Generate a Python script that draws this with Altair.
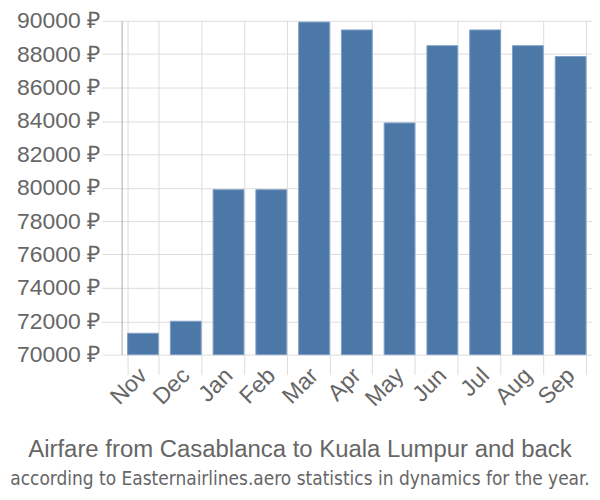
import altair as alt
import pandas as pd

months = ["Nov", "Dec", "Jan", "Feb", "Mar", "Apr", "May", "Jun", "Jul", "Aug", "Sep"]
prices = [71280, 72000, 79880, 79880, 89920, 89450, 83880, 88510, 89450, 88510, 87860]
y_ticks = list(range(70000, 90001, 2000))

df = pd.DataFrame({"month": months, "price": prices})

font = "Liberation Sans"

chart = alt.Chart(df).mark_bar(
    color="#4c78a8", stroke="#7f9fc6", strokeWidth=1
).encode(
    x=alt.X("month:N", sort=months, title=None,
            scale=alt.Scale(paddingInner=0.28, paddingOuter=0.14),
            axis=alt.Axis(labelAngle=-45, labelAlign="right", labelBaseline="middle",
                          tickBand="extent", tickSize=20, tickColor="#dddddd",
                          grid=True, gridColor="#dddddd", domain=False,
                          labelFont=font, labelFontSize=23, labelColor="#666666",
                          labelPadding=-3)),
    y=alt.Y("price:Q", title=None,
            scale=alt.Scale(domain=[70000, 90000], zero=False, nice=False),
            axis=alt.Axis(values=y_ticks, labelExpr="datum.value + ' ₽'",
                          tickSize=20, tickColor="#dddddd", gridColor="#dddddd",
                          domainColor="#aaaaaa",
                          labelFont=font, labelFontSize=23, labelColor="#666666",
                          labelPadding=2)),
    y2=alt.datum(70000),
).properties(
    width=472, height=335,
    autosize=alt.AutoSizeParams(type="none"),
    padding={"left": 114, "top": 12, "right": 0, "bottom": 137},
    title=alt.TitleParams(
        text="Airfare from Casablanca to Kuala Lumpur and back",
        subtitle="according to Easternairlines.aero statistics in dynamics for the year.",
        orient="bottom", anchor="middle", offset=28, dx=-57,
        font=font, fontSize=24, fontWeight="normal", color="#666666",
        subtitleFont="DejaVu Sans Condensed", subtitleFontSize=19, subtitleColor="#666666",
        subtitlePadding=8,
    ),
).configure_view(stroke=None)

chart.save("out.html", embed_options={"renderer": "svg", "actions": False})
